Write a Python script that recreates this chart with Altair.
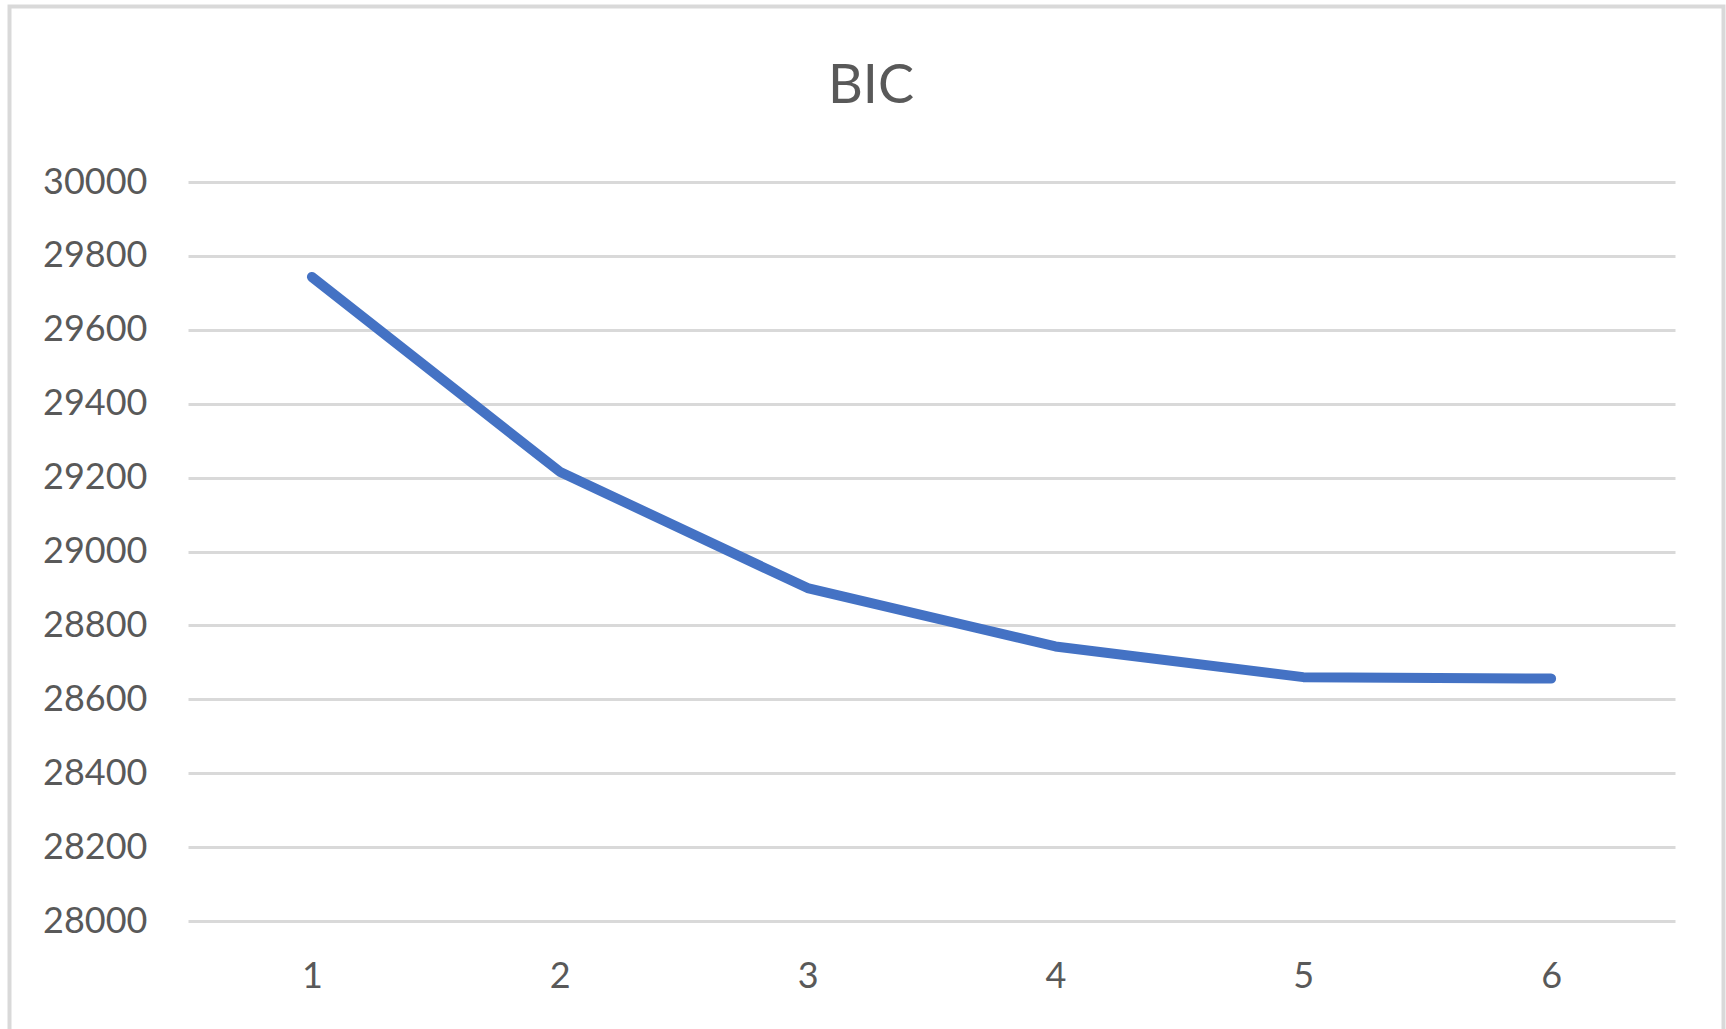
import altair as alt
import pandas as pd

# Data
k_values = [1, 2, 3, 4, 5, 6]
bic_values = [29743, 29216, 28901, 28743, 28660, 28656]
y_ticks = [28000, 28200, 28400, 28600, 28800, 29000, 29200, 29400, 29600, 29800, 30000]
title_text = "BIC"

df = pd.DataFrame({"k": k_values, "BIC": bic_values})

FONT = "Lato"
TEXT = "#595959"
GRID = "#d9d9d9"

line = alt.Chart(df).mark_line(
    color="#4472C4", strokeWidth=10, strokeCap="round", strokeJoin="round"
).encode(
    x=alt.X("k:O", scale=alt.Scale(padding=0.5),
            axis=alt.Axis(title=None, labelAngle=0, labelFontSize=36, labelColor=TEXT,
                          labelFont=FONT, labelPadding=38, ticks=False, domain=False,
                          grid=False)),
    y=alt.Y("BIC:Q", scale=alt.Scale(domain=[28000, 30000], nice=False, zero=False),
            axis=alt.Axis(title=None, values=y_ticks, format="d", labelFontSize=36,
                          labelColor=TEXT, labelFont=FONT, labelPadding=41, ticks=False,
                          domain=False, grid=True, gridColor=GRID, gridWidth=3)),
)

border = alt.Chart(alt.Data(values=[{}])).mark_rect(
    fill=None, stroke=GRID, strokeWidth=4
).encode(
    x=alt.value(-178.5), x2=alt.value(1535.5),
    y=alt.value(-175.5), y2=alt.value(900),
)

title = alt.Chart(alt.Data(values=[{"t": title_text}])).mark_text(
    font=FONT, fontSize=54, color=TEXT, align="center", baseline="alphabetic"
).encode(
    text="t:N", x=alt.value(683), y=alt.value(-79),
)

chart = alt.layer(line, border, title).properties(
    width=1487,
    height=739,
    padding={"left": 188, "top": 182, "right": 51, "bottom": 108},
    autosize=alt.AutoSizeParams(type="none"),
    background="white",
).configure_view(stroke=None)

chart.save("out.html", embed_options={"renderer": "svg", "actions": False})
